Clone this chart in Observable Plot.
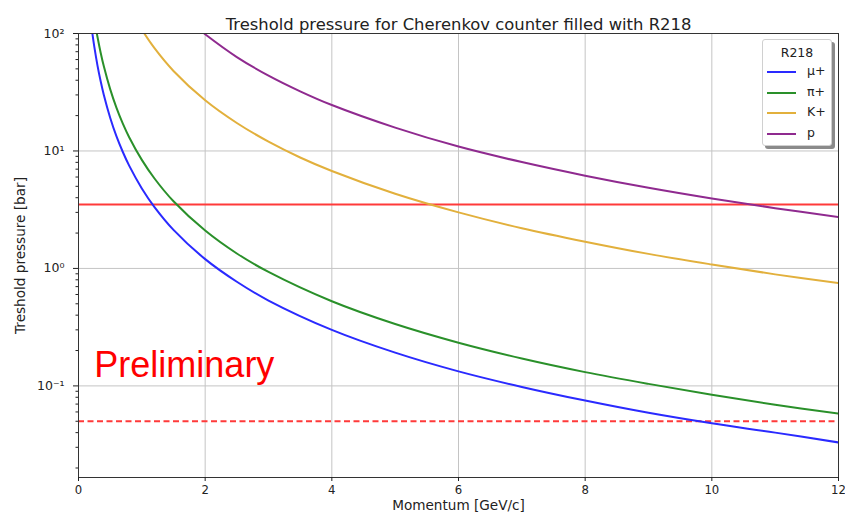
<!DOCTYPE html>
<html><head><meta charset="utf-8">
<script src="https://cdn.jsdelivr.net/npm/d3@7"></script>
<script src="https://cdn.jsdelivr.net/npm/@observablehq/plot@0.6"></script>
<style>
body{margin:0;background:#fff;font-family:"DejaVu Sans",sans-serif;}
#wrap{position:relative;width:845px;height:522px;}
#legend{position:absolute;left:762px;top:39px;width:68px;height:105px;border:1px solid #d0d0d0;border-radius:3px;background:#fff;box-shadow:3px 3px 0 #8a8a8a;font-size:12.5px;color:#222;}
#legend .t{position:absolute;left:0;width:100%;top:5px;text-align:center;}
#legend .row{position:absolute;left:4px;height:14px;}
#legend .row svg{position:absolute;left:0;top:0;}
#legend .row span{position:absolute;left:40px;top:-2px;white-space:nowrap;}
</style></head><body><div id="wrap"></div>
<script>
const title = "Treshold pressure for Cherenkov counter filled with R218";
const xLabel = "Momentum [GeV/c]";
const yLabel = "Treshold pressure [bar]";
const legendTitle = "R218";
const seriesNames = ["μ+", "π+", "K+", "p"];
const seriesColors = ["#2a2aff", "#2a902a", "#e2b03c", "#8f2a8f"];

const momMu = [0.2,0.22,0.25,0.3,0.35,0.4,0.5,0.6,0.7,0.8,1,1.2,1.5,2,2.5,3,4,5,6,7,8,9,10,11,12];
const presMu = [120,99.2,76.8,53.3,39.2,30,19.2,13.3,9.8,7.5,4.8,3.33,2.13,1.2,0.77,0.533,0.30,0.192,0.133,0.098,0.075,0.059,0.048,0.040,0.033];
const momPi = [0.27,0.3,0.35,0.4,0.5,0.6,0.7,0.8,1,1.2,1.5,2,2.5,3,4,5,6,7,8,9,10,11,12];
const presPi = [115,93.3,68.6,52.5,33.6,23.3,17.1,13.1,8.4,5.83,3.73,2.1,1.34,0.933,0.525,0.336,0.233,0.171,0.131,0.104,0.084,0.069,0.058];
const momK = [0.95,1,1.2,1.5,2,2.5,3,3.5,4,5,6,7,8,9,10,11,12];
const presK = [120,108,75,48,27,17.3,12,8.8,6.75,4.32,3.0,2.2,1.69,1.33,1.08,0.89,0.75];
const momP = [1.9,2,2.5,3,3.5,4,5,6,7,8,9,10,11,12];
const presP = [109,98.5,63,43.8,32.2,24.6,15.8,10.9,8.04,6.16,4.86,3.94,3.26,2.74];

const solidLevel = [3.5];
const dashedLevel = [0.05];
const xTicks = [0,2,4,6,8,10,12];
const yMajor = [0.1,1,10,100];
const yMinor = [0.02,0.03,0.04,0.05,0.06,0.07,0.08,0.09,0.2,0.3,0.4,0.5,0.6,0.7,0.8,0.9,2,3,4,5,6,7,8,9,20,30,40,50,60,70,80,90];
const annotation = [{x: 0.25, y: 0.15, text: "Preliminary"}];

const series = [
  {name: seriesNames[0], xs: momMu, ys: presMu, color: seriesColors[0]},
  {name: seriesNames[1], xs: momPi, ys: presPi, color: seriesColors[1]},
  {name: seriesNames[2], xs: momK, ys: presK, color: seriesColors[2]},
  {name: seriesNames[3], xs: momP, ys: presP, color: seriesColors[3]}
];

const sup = {"-":"⁻","0":"⁰","1":"¹","2":"²","3":"³"};
const fmtY = d => "10" + String(Math.round(Math.log10(d))).split("").map(c => sup[c]).join("");

const lineMarks = series.map(s => Plot.line(s.xs.map((x,i)=>({x, y:s.ys[i]})), {
  x:"x", y:"y", stroke:s.color, strokeWidth:2, curve:"catmull-rom", clip:true
}));

const chart = Plot.plot({
  width:845, height:522, marginLeft:78, marginRight:7, marginTop:33, marginBottom:45,
  style:{fontFamily:"DejaVu Sans, sans-serif", fontSize:"12px", color:"#222", background:"white"},
  x:{domain:[0,12]},
  y:{type:"log", domain:[0.0166,100]},
  marks:[
    Plot.gridX(xTicks, {stroke:"#c4c4c4", strokeOpacity:1, strokeWidth:1}),
    Plot.gridY(yMajor, {stroke:"#c4c4c4", strokeOpacity:1, strokeWidth:1}),
    Plot.ruleY(solidLevel, {stroke:"#ff3a3a", strokeWidth:2.2}),
    Plot.ruleY(dashedLevel, {stroke:"#ff3a3a", strokeWidth:2, strokeDasharray:"6,3.5"}),
    ...lineMarks,
    Plot.text(annotation, {x:"x", y:"y", text:"text", textAnchor:"start", fill:"#ff0000", fontSize:36, fontFamily:"Liberation Sans, Arial, sans-serif"}),
    Plot.frame({stroke:"#333", strokeWidth:1}),
    Plot.axisX(xTicks, {tickSize:4, tickPadding:4, tickFormat:d=>String(d), fontSize:11.7, label:null}),
    Plot.axisY(yMajor, {tickSize:5, tickPadding:9, tickFormat:fmtY, fontSize:12.5, label:null}),
    Plot.axisY(yMinor, {tickSize:2.5, tickFormat:()=>"", label:null}),
    Plot.text([xLabel], {frameAnchor:"bottom", dy:32, fontSize:13.6, fill:"#222"}),
    Plot.text([yLabel], {frameAnchor:"left", textAnchor:"middle", dx:-58, rotate:-90, fontSize:13.6, fill:"#222"}),
    Plot.text([title], {frameAnchor:"top", dy:-15, fontSize:16.4, fill:"#222"})
  ]
});

const wrap = document.getElementById("wrap");
wrap.appendChild(chart);

const legend = document.createElement("div");
legend.id = "legend";
let html = `<div class="t">${legendTitle}</div>`;
series.forEach((s,i) => {
  html += `<div class="row" style="top:${25 + i*20.5}px"><svg width="32" height="14"><line x1="0" x2="29" y1="7" y2="7" stroke="${s.color}" stroke-width="2"/></svg><span>${s.name}</span></div>`;
});
legend.innerHTML = html;
wrap.appendChild(legend);
</script>
</body></html>
